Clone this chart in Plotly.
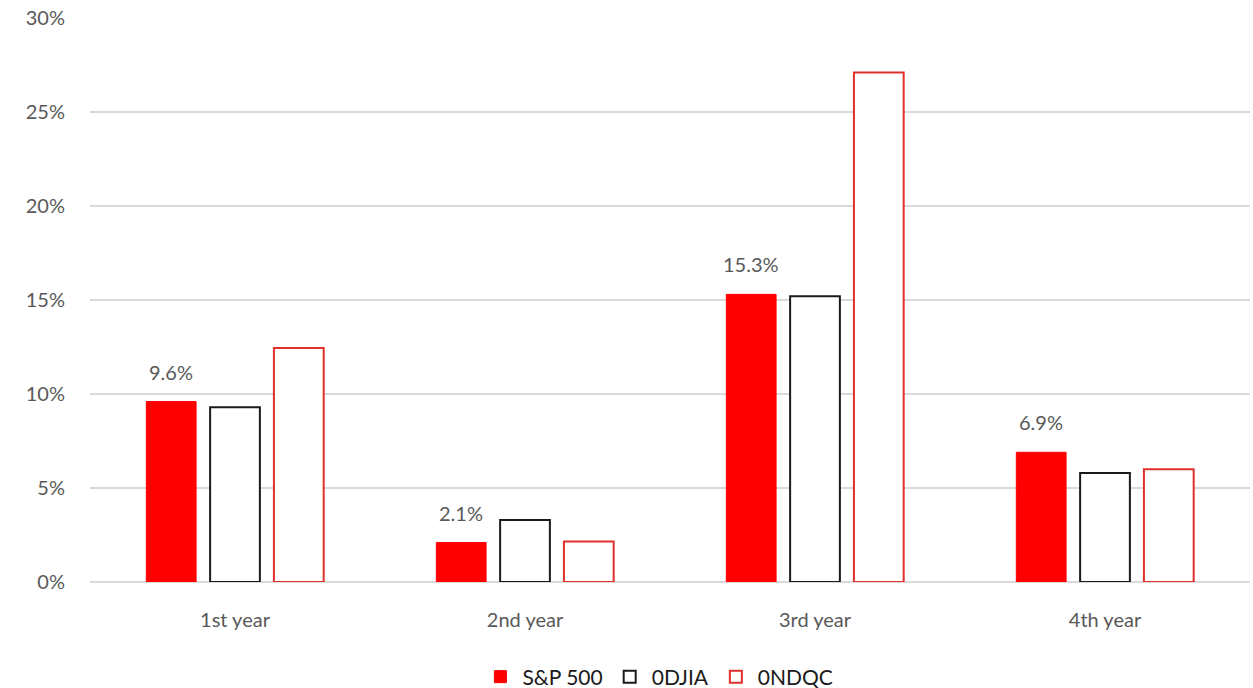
import plotly.graph_objects as go

categories = ["1st year", "2nd year", "3rd year", "4th year"]
sp500 = [9.6, 2.1, 15.3, 6.9]
djia = [9.3, 3.3, 15.2, 5.8]
ndqc = [12.45, 2.15, 27.1, 6.0]
sp_labels = ["9.6%", "2.1%", "15.3%", "6.9%"]
y_ticks = [0, 5, 10, 15, 20, 25, 30]
y_tick_text = ["0%", "5%", "10%", "15%", "20%", "25%", "30%"]

font_family = "Lato, Carlito, Calibri, sans-serif"
grey = "#595959"

fig = go.Figure()
fig.add_trace(go.Bar(
    x=categories, y=sp500, name="S&P 500",
    marker=dict(color="#ff0000", line=dict(color="#ff0000", width=1)),
))
fig.add_trace(go.Bar(
    x=categories, y=djia, name="0DJIA",
    marker=dict(color="#ffffff", line=dict(color="#1a1a1a", width=2)),
))
fig.add_trace(go.Bar(
    x=categories, y=ndqc, name="0NDQC",
    marker=dict(color="#ffffff", line=dict(color="#e0302a", width=2)),
))

for cat, val, lab in zip(categories, sp500, sp_labels):
    fig.add_annotation(x=cat, y=val, text=lab, showarrow=False,
                       xref="x", yref="y", xshift=-64, yshift=16,
                       yanchor="bottom", xanchor="center",
                       font=dict(size=20, color=grey, family=font_family))

fig.update_layout(
    width=1253, height=688,
    margin=dict(l=90, r=3, t=18, b=106, autoexpand=False),
    paper_bgcolor="white", plot_bgcolor="white",
    barmode="group", bargap=0.34, bargroupgap=0.22,
    font=dict(family=font_family, size=20, color=grey),
    showlegend=True,
    legend=dict(orientation="h", x=0.49, xanchor="center", yref="container",
                y=0.016, yanchor="middle", itemwidth=34,
                font=dict(size=21, color="#1a1a1a"), traceorder="normal"),
    yaxis=dict(range=[0, 30], tickvals=y_ticks, ticktext=y_tick_text,
               showgrid=True, gridcolor="#d9d9d9", gridwidth=1.5,
               zeroline=True, zerolinecolor="#d9d9d9", zerolinewidth=1.5,
               ticks="", ticklabelstandoff=24,
               tickfont=dict(size=20, color=grey)),
    xaxis=dict(showgrid=False, showline=False, ticks="", ticklabelstandoff=24,
               tickfont=dict(size=20, color=grey)),
)

fig.write_html("out.html")
